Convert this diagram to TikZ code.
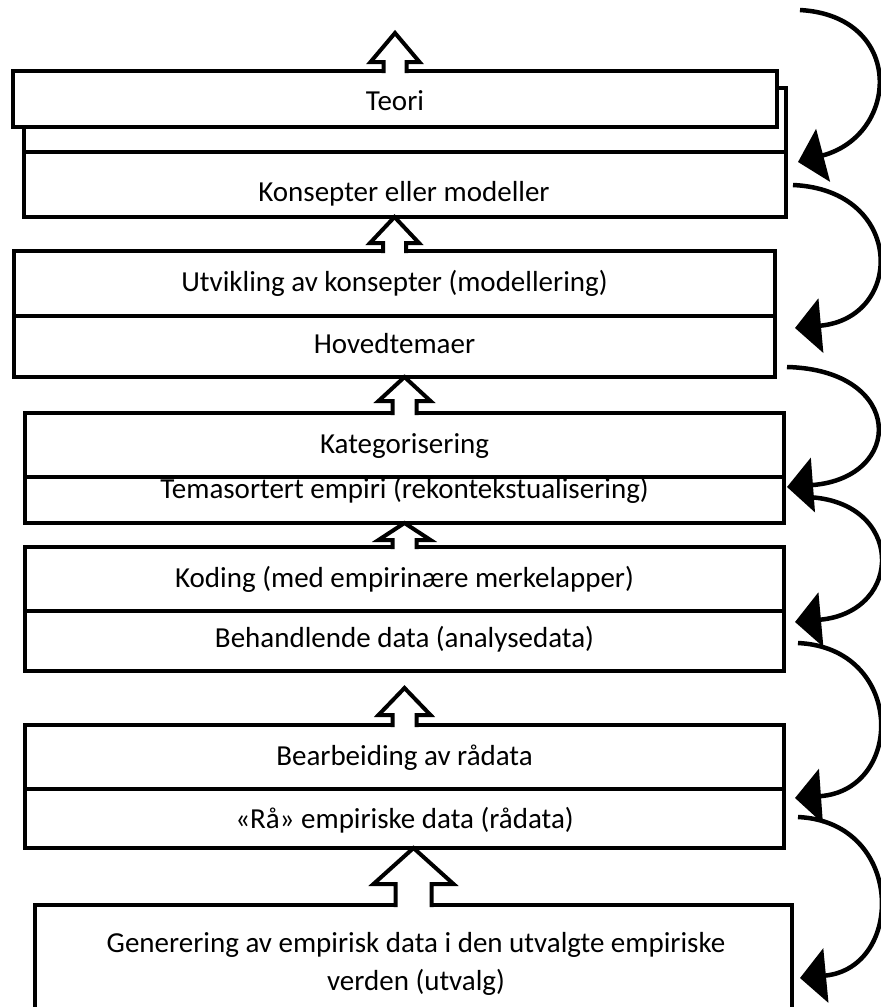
\documentclass[tikz,border=0pt]{standalone}
\usepackage{fontspec}
\setmainfont{Carlito}
\usetikzlibrary{arrows.meta,calc}
\newcommand{\blockup}[5]{%
  \filldraw[blk] let \p1=(#1), \p2=(#2) in
    (\x1-#5,\y1-2pt) -- (\x1-#5,\y2-#3) -- (\x1-#4,\y2-#3) -- (\x1,\y2)
    -- (\x1+#4,\y2-#3) -- (\x1+#5,\y2-#3) -- (\x1+#5,\y1-2pt);
}
\begin{document}
\begin{tikzpicture}[x=1pt,y=-1pt,
  box/.style={draw=black, line width=4pt, fill=white, inner sep=0pt, outer sep=0pt, rectangle},
  lbl/.style={font=\fontsize{29}{38}\selectfont, inner sep=0pt, align=center, anchor=base},
  blk/.style={draw=black, fill=white, line width=4pt, line join=miter},
  curv/.style={line width=4.5pt, -{Triangle[length=26pt,width=54pt]}}
]
\useasboundingbox (0,0) rectangle (881,1007);
\clip (0,0) rectangle (881,1007);

% group 1
\node[box, minimum width=762pt, minimum height=64pt] (back) at (405,120) {};
\node[box, minimum width=762pt, minimum height=65pt] (konsept) at (405,184.5) {};
\node[box, minimum width=764pt, minimum height=56pt] (teori) at (395,99) {};
% group 2
\node[box, minimum width=761pt, minimum height=65pt] (utvikl) at (394.5,283.5) {};
\node[box, minimum width=761pt, minimum height=61pt] (hoved) at (394.5,346.5) {};
% group 3
\node[box, minimum width=759pt, minimum height=64pt] (kateg) at (404.5,445) {};
\node[box, minimum width=759pt, minimum height=46pt] (temas) at (404.5,500) {};
% group 4
\node[box, minimum width=759pt, minimum height=64pt] (koding) at (404.5,579) {};
\node[box, minimum width=759pt, minimum height=60pt] (behand) at (404.5,641) {};
% group 5
\node[box, minimum width=759pt, minimum height=64pt] (bearb) at (404.5,757) {};
\node[box, minimum width=759pt, minimum height=59pt] (raa) at (404.5,818.5) {};
% group 6
\node[box, minimum width=757pt, minimum height=125pt] (gener) at (413.5,967.5) {};

% block arrows
\coordinate (toptip) at (395,33);
\coordinate (midtip) at ($(bearb.north)+(0,-37)$);
\blockup{teori.north}{toptip}{29pt}{24.5pt}{11.5pt}
\blockup{utvikl.north}{konsept.south}{26pt}{24.5pt}{11.5pt}
\blockup{kateg.north}{hoved.south}{24pt}{26pt}{12pt}
\blockup{koding.north}{temas.south}{17pt}{26pt}{12pt}
\blockup{bearb.north}{midtip}{27pt}{26pt}{12pt}
\blockup{gener.north}{raa.south}{36pt}{40pt}{18pt}

% labels
\node[lbl] (tteori) at (395,110) {Teori};
\node[lbl] (tkons) at (404,201) {Konsepter eller modeller};
\node[lbl] (tutv) at (394.5,291) {Utvikling av konsepter (modellering)};
\node[lbl] (thov) at (394.5,353) {Hovedtemaer};
\node[lbl] (tkat) at (404.5,453) {Kategorisering};
\node[lbl] (ttem) at (404.5,498) {Temasortert empiri (rekontekstualisering)};
\node[lbl] (tkod) at (404.5,587) {Koding (med empirinære merkelapper)};
\node[lbl] (tbeh) at (404.5,647) {Behandlende data (analysedata)};
\node[lbl] (tbea) at (404.5,765) {Bearbeiding av rådata};
\node[lbl] (traa) at (404.5,828) {«Rå» empiriske data (rådata)};
\node[lbl] (tgen) at (416,990) {Generering av empirisk data i den utvalgte empiriske\\verden (utvalg)};

% curved arrows
\coordinate (s1) at (800,10);   \coordinate (e1) at (798,162);
\coordinate (s2) at (793,185);  \coordinate (e2) at (795,328);
\coordinate (s3) at (787,367);  \coordinate (e3) at (787,487);
\coordinate (s4) at (806,497);  \coordinate (e4) at (795,622);
\coordinate (s5) at (798,643);  \coordinate (e5) at (795,798);
\coordinate (s6) at (798,817);  \coordinate (e6) at (800,978);
\draw[curv] (s1) .. controls (905,16) and (900,135) .. (e1);
\draw[curv] (s2) .. controls (905,190) and (905,318) .. (e2);
\draw[curv] (s3) .. controls (905,370) and (905,478) .. (e3);
\draw[curv] (s4) .. controls (905,500) and (905,612) .. (e4);
\draw[curv] (s5) .. controls (905,648) and (905,790) .. (e5);
\draw[curv] (s6) .. controls (905,822) and (905,968) .. (e6);
\end{tikzpicture}
\end{document}
